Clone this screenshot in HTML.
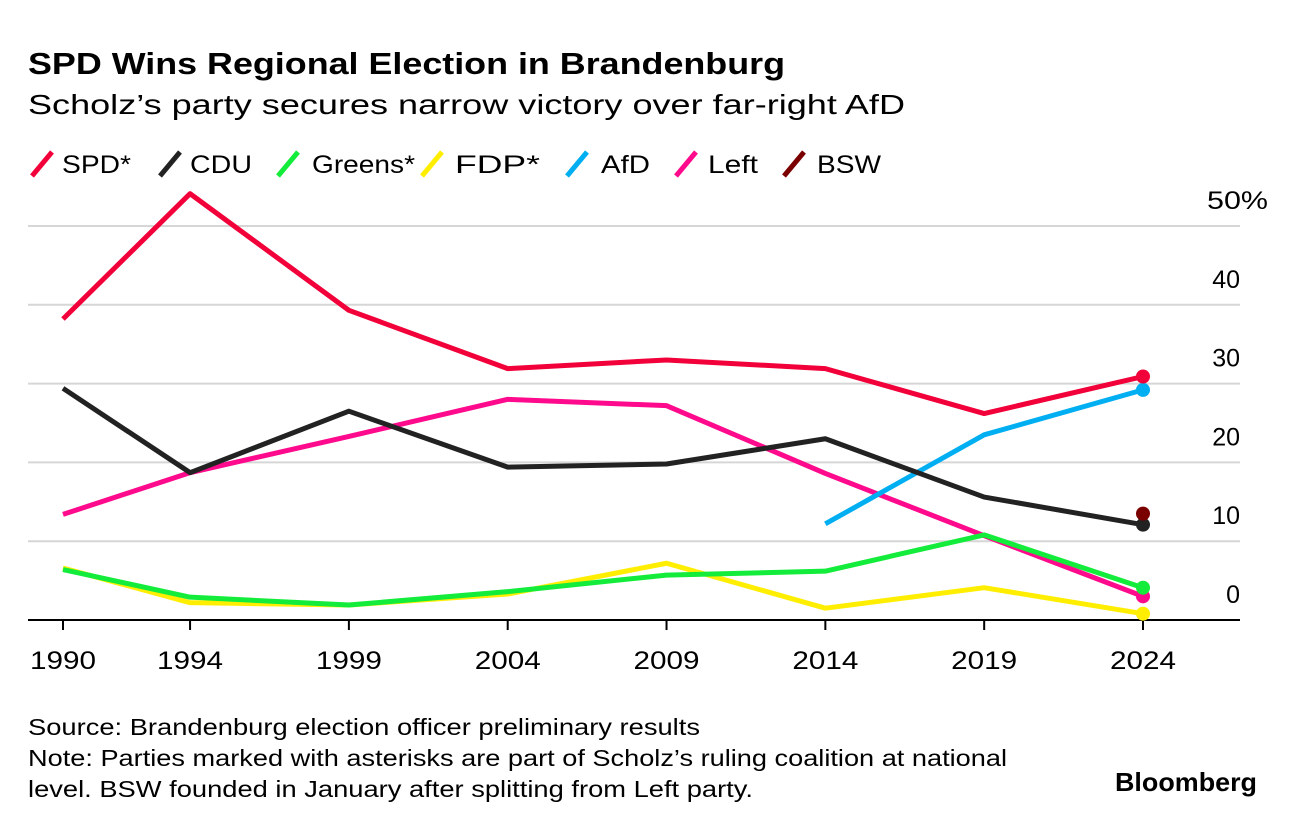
<!DOCTYPE html>
<html><head><meta charset="utf-8"><style>
body{margin:0;background:#fff;width:1296px;height:828px;overflow:hidden;font-family:"Liberation Sans",sans-serif;color:#000}
svg{position:absolute;left:0;top:0}
</style></head><body>
<svg id="c" width="1296" height="828">
<text x="28" y="74" font-size="31" font-weight="bold" textLength="757" lengthAdjust="spacingAndGlyphs">SPD Wins Regional Election in Brandenburg</text>
<text x="28" y="114" font-size="28" textLength="877" lengthAdjust="spacingAndGlyphs">Scholz’s party secures narrow victory over far-right AfD</text>
<g id="legend"></g>
<g id="grid"></g><g id="lines"></g>
<text x="28" y="735" font-size="23" textLength="672" lengthAdjust="spacingAndGlyphs">Source: Brandenburg election officer preliminary results</text>
<text x="28" y="766" font-size="23" textLength="979" lengthAdjust="spacingAndGlyphs">Note: Parties marked with asterisks are part of Scholz’s ruling coalition at national</text>
<text x="28" y="797" font-size="23" textLength="725" lengthAdjust="spacingAndGlyphs">level. BSW founded in January after splitting from Left party.</text>
<text x="1115" y="791" font-size="26" font-weight="bold" textLength="142" lengthAdjust="spacingAndGlyphs">Bloomberg</text>
</svg>
<script>
const years=[1990,1994,1999,2004,2009,2014,2019,2024];
const yTicks=[0,10,20,30,40,50];
const spd=[38.2,54.1,39.3,31.9,33.0,31.9,26.2,30.9];
const cdu=[29.4,18.7,26.5,19.4,19.8,23.0,15.6,12.1];
const greens=[6.4,2.9,1.9,3.6,5.7,6.2,10.8,4.1];
const fdp=[6.6,2.2,1.9,3.3,7.2,1.5,4.1,0.8];
const afd=[null,null,null,null,null,12.2,23.5,29.2];
const left=[13.4,18.7,23.3,28.0,27.2,18.6,10.7,3.0];
const bsw=[null,null,null,null,null,null,null,13.5];
const seriesNames=["SPD*","CDU","Greens*","FDP*","AfD","Left","BSW"];
const NS="http://www.w3.org/2000/svg";
const X=y=>63+(y-1990)*(1143-63)/34;
const Y=v=>620-v*7.88;
function mk(t,a,p){const e=document.createElementNS(NS,t);for(const k in a)e.setAttribute(k,a[k]);p.appendChild(e);return e;}
const grid=document.getElementById('grid');
yTicks.forEach(t=>{
 if(t>0){const l=mk('line',{x1:28,x2:1240,y1:Y(t),y2:Y(t),stroke:'#d6d6d6','stroke-width':2},grid);
 
 }
 let tx;
 if(t==50){tx=mk('text',{x:1207,y:Y(t)-17,'font-size':25,textLength:61,lengthAdjust:'spacingAndGlyphs'},grid);tx.textContent=t+'%';}
 else{tx=mk('text',{x:1240,y:Y(t)-17,'font-size':25,'text-anchor':'end'},grid);tx.textContent=t;}
 
 
});
const ax=mk('line',{x1:28,x2:1240,y1:620,y2:620,stroke:'#000','stroke-width':2},grid);


years.forEach(y=>{
 const tk=mk('line',{x1:X(y),x2:X(y),y1:620,y2:630,stroke:'#000','stroke-width':2},grid);
 
 
 const t=mk('text',{x:X(y)-33,y:669,'font-size':25,textLength:66,lengthAdjust:'spacingAndGlyphs'},grid);t.textContent=y;
 
 
});
const series=[[left,'#ff0a8c'],[fdp,'#ffee00'],[greens,'#13ec3a'],[afd,'#00aef2'],[cdu,'#222222'],[spd,'#f20039'],[bsw,'#7a0000']];
const lines=document.getElementById('lines');
const legOrder=[[spd,'#f20039'],[cdu,'#222222'],[greens,'#13ec3a'],[fdp,'#ffee00'],[afd,'#00aef2'],[left,'#ff0a8c'],[bsw,'#7a0000']];
series.forEach(([d,c])=>{
 const pts=[];d.forEach((v,i)=>{if(v!=null)pts.push(X(years[i])+','+Y(v));});
 const nm=seriesNames[legOrder.findIndex(s=>s[0]===d)].replace('*','').toLowerCase();
 if(pts.length>1){const p=mk('polyline',{points:pts.join(' '),fill:'none',stroke:c,'stroke-width':5,'stroke-linejoin':'round'},lines);
 
 }
 const last=d.length-1;
 const dot=mk('circle',{cx:X(years[last]),cy:Y(d[last]),r:7,fill:c},lines);
 
 
});
const leg=document.getElementById('legend');
const legX=[30,158,276,420,565,674,782];
const legTX=[62,190,312,455,601,708,817];
const legTW=[69,62,103,85,49,50,64];
legOrder.forEach(([d,c],i)=>{
 const g=mk('g',{},leg);
 
 
 mk('line',{x1:legX[i]+2,y1:176,x2:legX[i]+22,y2:152,stroke:c,'stroke-width':5},g);
 const t=mk('text',{x:legTX[i],y:173,'font-size':25,textLength:legTW[i],lengthAdjust:'spacingAndGlyphs'},g);t.textContent=seriesNames[i];
});
</script>
</body></html>
